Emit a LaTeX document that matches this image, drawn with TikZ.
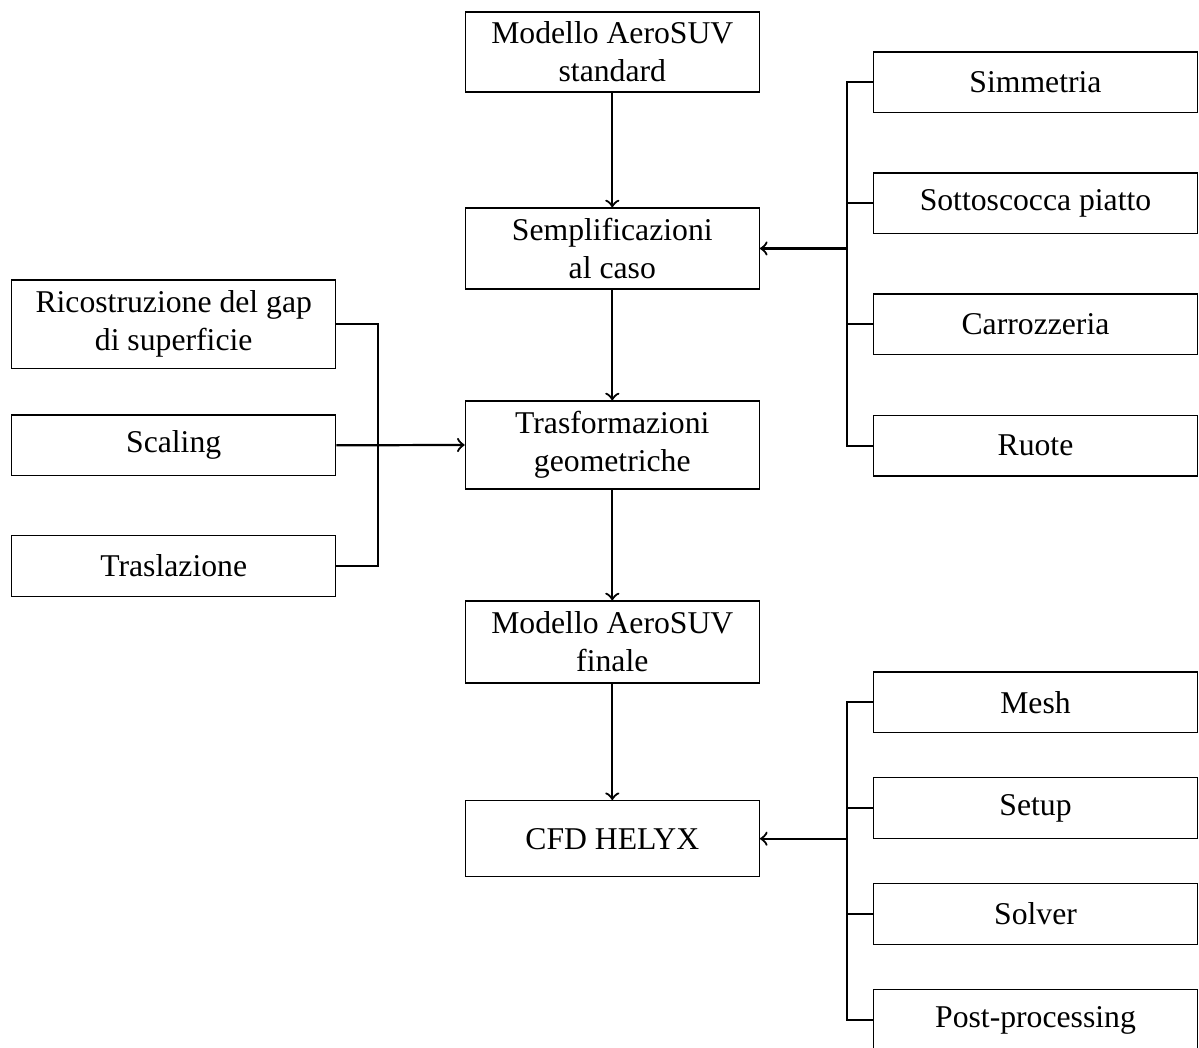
\documentclass[tikz,border=0pt]{standalone}
\usepackage{fontspec}
\setmainfont{Liberation Serif}
\newdimen\pxu \pxu=0.3155pt
\tikzset{
  box/.style={draw, line width=0.4pt, inner sep=0pt, align=center, font=\fontsize{10}{12}\selectfont},
  cbox/.style={box, minimum width=294\pxu},
  sbox/.style={box, minimum width=324\pxu, minimum height=60.5\pxu},
  conn/.style={line width=0.7pt},
  arr/.style={line width=0.7pt, ->}
}
\begin{document}
\begin{tikzpicture}[x=0.3155pt, y=-0.3155pt]
\useasboundingbox (0,0) rectangle (1199,1048);
% central column
\node[cbox, minimum height=80\pxu] (b1) at (612.3,52) {Modello AeroSUV\\standard};
\node[cbox, minimum height=81\pxu] (b2) at (612.3,248.5) {Semplificazioni\\al caso};
\node[cbox, minimum height=88\pxu] (b3) at (612.3,445) {Trasformazioni\\geometriche};
\node[cbox, minimum height=82\pxu] (b4) at (612.3,642) {Modello AeroSUV\\finale};
\node[cbox, minimum height=76\pxu] (b5) at (612.3,838.7) {CFD HELYX};
% right top
\node[sbox] (sim) at (1035.5,82.3) {Simmetria};
\node[sbox] (sot) at (1035.5,203.3) {Sottoscocca piatto};
\node[sbox] (car) at (1035.5,324.3) {Carrozzeria};
\node[sbox] (ruo) at (1035.5,445.7) {Ruote};
% right bottom
\node[sbox] (mes) at (1035.5,702.3) {Mesh};
\node[sbox] (set) at (1035.5,808) {Setup};
\node[sbox] (sol) at (1035.5,914) {Solver};
\node[sbox] (pos) at (1035.5,1020) {Post-processing};
% left
\node[sbox, minimum height=88.7\pxu] (ric) at (173.7,324.3) {Ricostruzione del gap\\di superficie};
\node[sbox] (sca) at (173.7,445.3) {Scaling};
\node[sbox] (tra) at (173.7,566) {Traslazione};
% bus coordinates
\coordinate (rt1) at (846.7,82.3);
\coordinate (rt2) at (846.7,445.7);
\coordinate (rb1) at (846.7,702.3);
\coordinate (rb2) at (846.7,1020);
\coordinate (lt1) at (377.7,324.3);
\coordinate (lt2) at (377.7,566);
% main flow
\draw[arr] (b1) -- (b2);
\draw[arr] (b2) -- (b3);
\draw[arr] (b3) -- (b4);
\draw[arr] (b4) -- (b5);
% right top bus
\draw[conn] (sim.west) -- (rt1) -- (rt2) -- (ruo.west);
\draw[conn] (sot.west) -- (sot.west -| rt1);
\draw[conn] (car.west) -- (car.west -| rt1);
\draw[arr] (b2.east -| rt1) -- (b2.east);
% right bottom bus
\draw[conn] (mes.west) -- (rb1) -- (rb2) -- (pos.west);
\draw[conn] (set.west) -- (set.west -| rb1);
\draw[conn] (sol.west) -- (sol.west -| rb1);
\draw[arr] (b5.east -| rb1) -- (b5.east);
% left bus
\draw[conn] (ric.east) -- (lt1) -- (lt2) -- (tra.east);
\draw[arr] (sca.east) -- (b3.west);
\end{tikzpicture}
\end{document}
